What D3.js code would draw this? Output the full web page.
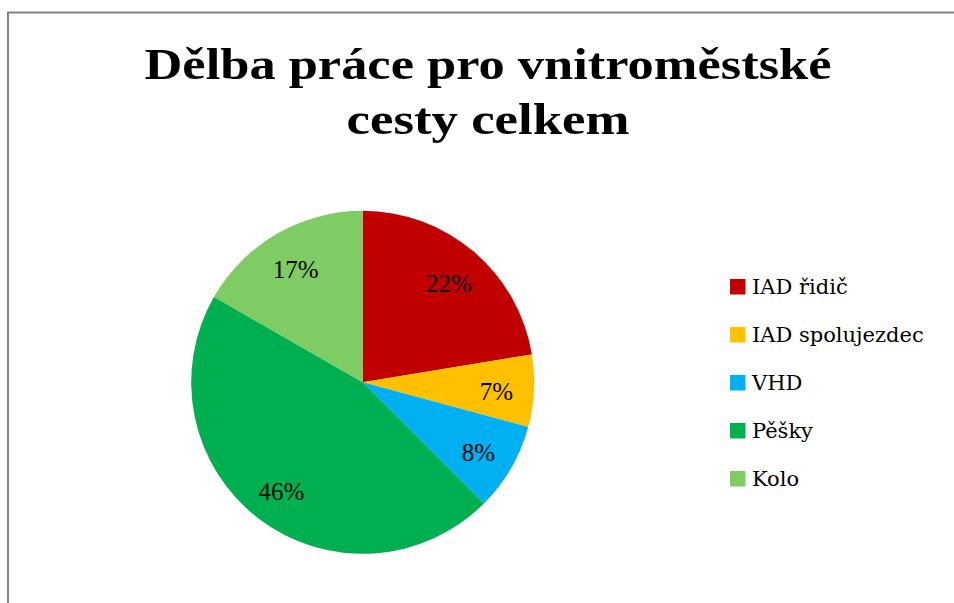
<!DOCTYPE html>
<html>
<head>
<meta charset="utf-8">
<script src="https://cdn.jsdelivr.net/npm/d3@7"></script>
<style>
    body { margin: 0; background: #fff; }
    svg { display: block; }
</style>
</head>
<body>
<svg id="chart"></svg>
<script>
const width = 954;
const height = 603;

const titleLines = ['Dělba práce pro vnitroměstské', 'cesty celkem'];
const categories = ['IAD řidič', 'IAD spolujezdec', 'VHD', 'Pěšky', 'Kolo'];
const shares = [22.4, 6.8, 8.3, 45.8, 16.7];
const colours = ['#C00000', '#FFC000', '#00B0F0', '#00B050', '#7FCB64'];

const dataset = categories.map((name, i) => ({ name, value: shares[i] }));
const total = d3.sum(shares);

const svg = d3.select('#chart')
    .attr('width', width)
    .attr('height', height);

// frame of the chart area (cut off on the right and bottom)
svg.append('rect')
    .attr('x', 8)
    .attr('y', 12.5)
    .attr('width', 1200)
    .attr('height', 1200)
    .attr('fill', 'none')
    .attr('stroke', '#777')
    .attr('stroke-width', 1.8);

// title
const title = svg.append('g')
    .style('font-family', '"Liberation Serif", "DejaVu Serif", serif')
    .style('font-weight', 'bold')
    .style('font-size', '44px');

const titleWidths = [687, 283];
titleLines.forEach((line, i) => {
    const t = title.append('text')
        .attr('x', 488)
        .attr('y', 79 + i * 55)
        .attr('text-anchor', 'middle')
        .attr('fill', '#000')
        .text(line);
    const w = t.node().getComputedTextLength();
    if (Math.abs(w - titleWidths[i]) > 4) {
        t.attr('textLength', titleWidths[i]).attr('lengthAdjust', 'spacingAndGlyphs');
    }
});

// pie
const cx = 362.7, cy = 382.3, radius = 171.5;

const colour = d3.scaleOrdinal()
    .domain(categories)
    .range(colours);

const pie = d3.pie()
    .value(d => d.value)
    .sort(null);

const arc = d3.arc()
    .innerRadius(0)
    .outerRadius(radius);

const labelArc = d3.arc()
    .innerRadius(radius * 0.78)
    .outerRadius(radius * 0.78);

const pieGroup = svg.append('g')
    .attr('transform', `translate(${cx}, ${cy})`);

const arcs = pie(dataset);

pieGroup.selectAll('path')
    .data(arcs)
    .enter()
    .append('path')
    .attr('d', arc)
    .attr('fill', d => colour(d.data.name));

const pct = d3.format('.0%');

pieGroup.selectAll('text')
    .data(arcs)
    .enter()
    .append('text')
    .attr('transform', d => `translate(${labelArc.centroid(d)})`)
    .attr('text-anchor', 'middle')
    .attr('dy', '0.45em')
    .style('font-family', '"Liberation Serif", "DejaVu Serif", serif')
    .style('font-size', '25px')
    .attr('fill', '#000')
    .text(d => pct(d.data.value / total));

// legend
const legend = svg.append('g')
    .attr('transform', 'translate(730, 279)');

const legendItems = legend.selectAll('g')
    .data(categories)
    .enter()
    .append('g')
    .attr('transform', (d, i) => `translate(0, ${i * 48})`);

legendItems.append('rect')
    .attr('width', 15.5)
    .attr('height', 15.5)
    .attr('fill', d => colour(d));

legendItems.append('text')
    .attr('x', 22)
    .attr('y', 15)
    .style('font-family', '"DejaVu Serif", "Liberation Serif", serif')
    .style('font-size', '21px')
    .attr('fill', '#000')
    .text(d => d);
</script>
</body>
</html>
